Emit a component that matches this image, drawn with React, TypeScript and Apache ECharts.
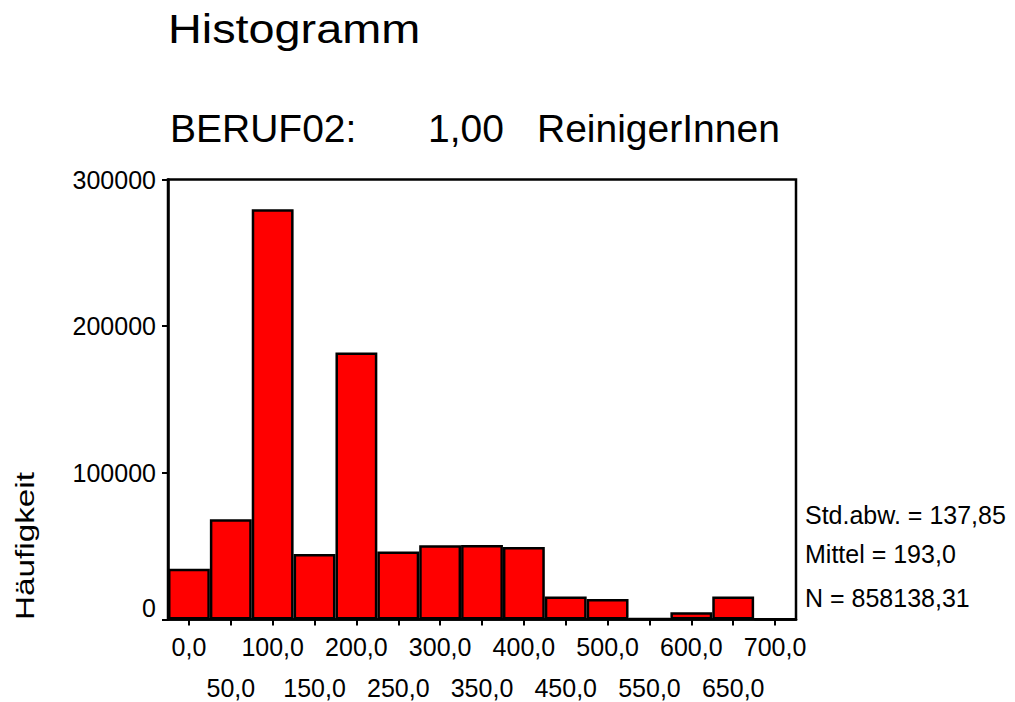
import React, { useEffect, useRef } from "react";
import * as echarts from "echarts";

const categories = ["0,0", "50,0", "100,0", "150,0", "200,0", "250,0", "300,0", "350,0", "400,0", "450,0", "500,0", "550,0", "600,0", "650,0", "700,0"];
const frequencies = [34600, 68300, 279700, 44600, 182000, 46400, 50700, 50800, 49400, 15700, 13900, 600, 5000, 15700, 300];
const yMax = 300000;
const yInterval = 100000;
const titleText = "Histogramm";
const subtitleParts = ["BERUF02:", "1,00", "ReinigerInnen"];
const yAxisName = "Häufigkeit";
const statLines = ["Std.abw. = 137,85", "Mittel = 193,0", "N = 858138,31"];

const FONT = "Liberation Sans, Arial, Helvetica, sans-serif";

export default function App() {
  const ref = useRef<HTMLDivElement>(null);
  useEffect(() => {
    if (!ref.current) return;
    const chart = echarts.init(ref.current, undefined, { renderer: "svg" });
    const subX = [170, 428, 537];
    const statY = [515, 554, 598];
    chart.setOption({
      animation: false,
      backgroundColor: "#ffffff",
      textStyle: { fontFamily: FONT, color: "#000" },
      grid: {
        left: 168,
        top: 179.5,
        width: 628,
        height: 440,
        show: true,
        borderColor: "#000",
        borderWidth: 2.5,
        containLabel: false,
        outerBoundsMode: "none",
      },
      xAxis: {
        type: "category",
        data: categories,
        axisLine: { show: true, lineStyle: { color: "#000", width: 2.5 } },
        axisTick: { show: true, alignWithLabel: true, length: 6, lineStyle: { color: "#000", width: 2 } },
        axisLabel: {
          interval: 0,
          hideOverlap: false,
          margin: 7,
          fontSize: 25,
          lineHeight: 41,
          color: "#000",
          fontFamily: FONT,
          formatter: (v: string, i: number) => (i % 2 === 1 ? "\n" + v : v),
        },
        splitLine: { show: false },
      },
      yAxis: {
        type: "value",
        min: 0,
        max: yMax,
        interval: yInterval,
        axisLine: { show: true, lineStyle: { color: "#000", width: 2.5 } },
        axisTick: { show: true, length: 6, lineStyle: { color: "#000", width: 2 } },
        axisLabel: {
          margin: 12,
          fontSize: 25,
          color: "#000",
          fontFamily: FONT,
          formatter: (v: number) => (v === 0 ? "{z|0}" : String(v)),
          rich: { z: { fontSize: 25, color: "#000", fontFamily: FONT, padding: [0, 0, 24, 0] } },
        },
        splitLine: { show: false },
      },
      series: [
        {
          type: "bar",
          data: frequencies,
          barCategoryGap: "0%",
          itemStyle: { color: "#ff0000", borderColor: "#000", borderWidth: 2.5 },
          silent: true,
        },
      ],
      graphic: [
        {
          type: "text",
          x: 168,
          y: 29,
          scaleX: 1.17,
          style: { text: titleText, font: `40px ${FONT}`, fill: "#000", align: "left", verticalAlign: "middle" },
        },
        ...subtitleParts.map((t, i) => ({
          type: "text",
          x: subX[i],
          y: 128,
          style: { text: t, font: `39px ${FONT}`, fill: "#000", align: "left", verticalAlign: "middle" },
        })),
        {
          type: "text",
          x: 25,
          y: 546,
          rotation: Math.PI / 2,
          scaleX: 1.28,
          style: { text: yAxisName, font: `26px ${FONT}`, fill: "#000", align: "center", verticalAlign: "middle" },
        },
        ...statLines.map((t, i) => ({
          type: "text",
          x: 805,
          y: statY[i],
          style: { text: t, font: `25px ${FONT}`, fill: "#000", align: "left", verticalAlign: "middle" },
        })),
      ],
    });
    return () => chart.dispose();
  }, []);
  return <div ref={ref} style={{ width: 1015, height: 702, position: "absolute", left: 0, top: 0 }} />;
}
